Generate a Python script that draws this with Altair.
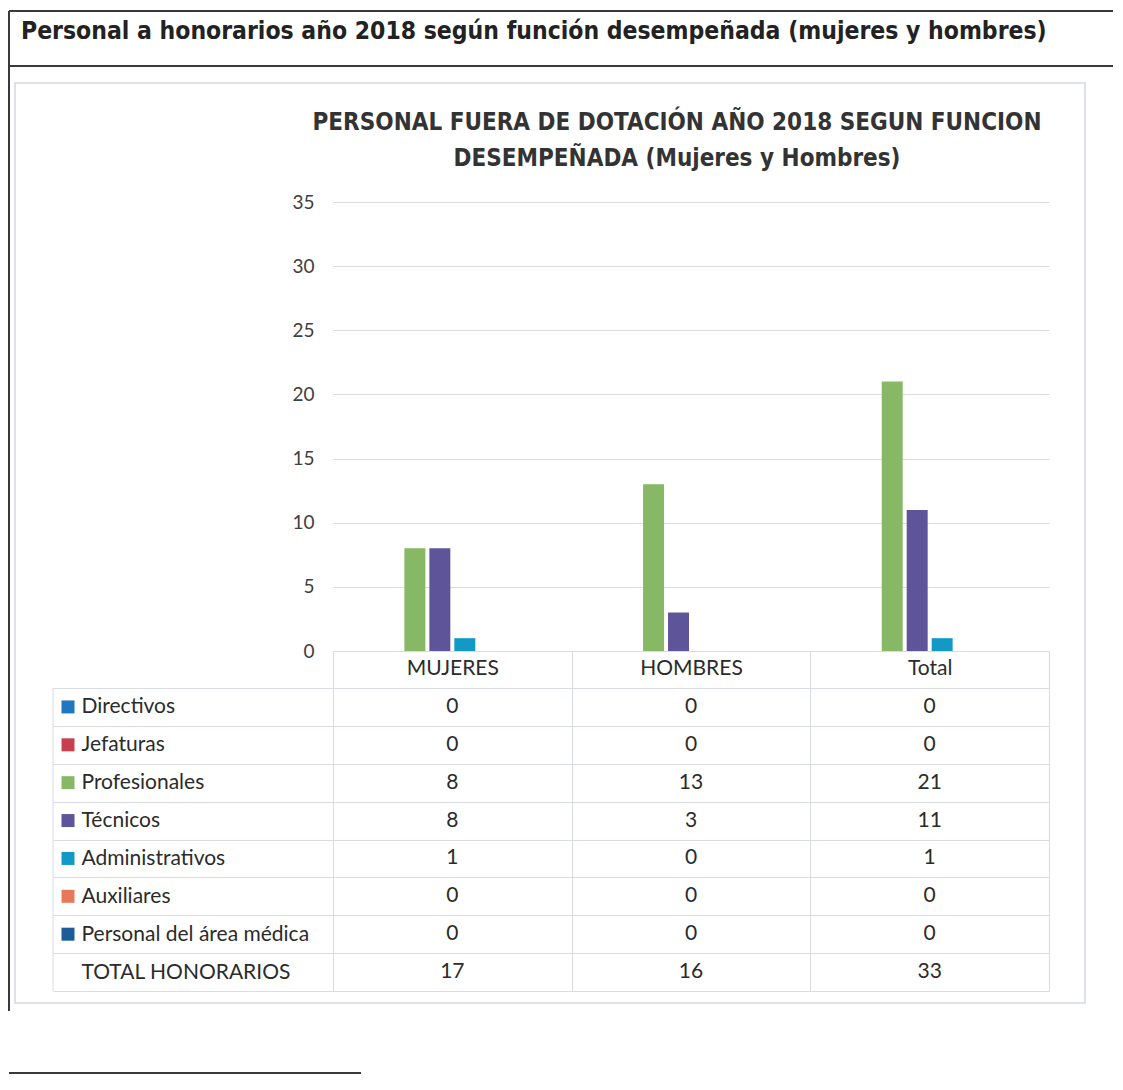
import altair as alt
import pandas as pd

# ---------------- data ----------------
categories = ["MUJERES", "HOMBRES", "Total"]
series = ["Directivos", "Jefaturas", "Profesionales", "Técnicos",
          "Administrativos", "Auxiliares", "Personal del área médica"]
mujeres = [0, 0, 8, 8, 1, 0, 0]
hombres = [0, 0, 13, 3, 0, 0, 0]
total = [0, 0, 21, 11, 1, 0, 0]
total_label = "TOTAL HONORARIOS"
totals = [17, 16, 33]
y_ticks = [0, 5, 10, 15, 20, 25, 30, 35]
colors = ["#1f78bf", "#c8404f", "#86b865", "#5d5499",
          "#1399c6", "#e8785a", "#1c5c98"]

doc_title = "Personal a honorarios año 2018 según función desempeñada (mujeres y hombres)"
chart_title = ["PERSONAL FUERA DE DOTACIÓN AÑO 2018 SEGUN FUNCION",
               "DESEMPEÑADA (Mujeres y Hombres)"]

# ---------------- styles ----------------
NARROW = "DejaVu Sans Condensed, Liberation Sans Narrow, Liberation Sans"
BODY = "Lato"
TXT = "#2b2b2b"
GRID = "#d8dbe4"
DARK = "#3a3a3a"

W, H_PLOT, H_TAB = 716, 449, 303

cols = {"MUJERES": mujeres, "HOMBRES": hombres, "Total": total}
bar_rows = []
for c in categories:
    for s, v in zip(series, cols[c]):
        bar_rows.append({"categoria": c, "serie": s, "valor": v})
bar_df = pd.DataFrame(bar_rows)

row_order = series + [total_label]
tab_rows = []
for ci, c in enumerate(categories):
    for s, v in zip(series, cols[c]):
        tab_rows.append({"fila": s, "categoria": c, "valor": v})
    tab_rows.append({"fila": total_label, "categoria": c, "valor": totals[ci]})
tab_df = pd.DataFrame(tab_rows)
sq_df = pd.DataFrame({"fila": series, "serie": series})

color_scale = alt.Scale(domain=series, range=colors)

# ---------------- bar chart ----------------
top = alt.Chart(bar_df).mark_bar().encode(
    x=alt.X("categoria:N",
            scale=alt.Scale(domain=categories, paddingInner=0, paddingOuter=0),
            axis=alt.Axis(title=None, labelFont=BODY, labelFontSize=21, labelColor=TXT,
                          labelAngle=0, labelPadding=-20, labelBaseline="middle",
                          tickBand="extent", tickSize=37, tickColor=GRID, ticks=True,
                          domainColor=GRID, grid=False)),
    xOffset=alt.XOffset("serie:N",
                        scale=alt.Scale(domain=series + [" "], paddingInner=0.16,
                                        paddingOuter=0.86)),
    y=alt.Y("valor:Q",
            scale=alt.Scale(domain=[0, 35]),
            axis=alt.Axis(title=None, values=y_ticks, grid=True, gridColor=GRID,
                          domain=False, ticks=False, labelFont=BODY, labelFontSize=19,
                          labelColor="#404040", labelPadding=19)),
    color=alt.Color("serie:N", scale=color_scale, legend=None),
).properties(
    width=W, height=H_PLOT,
    title=alt.TitleParams(text=chart_title, font=NARROW, fontSize=24, fontWeight="bold",
                          color="#333333", anchor="middle", frame="group", dx=-14,
                          offset=22, lineHeight=36),
)

# ---------------- data table ----------------
cells = alt.Chart(tab_df).mark_text(font=BODY, fontSize=21, color=TXT).encode(
    x=alt.X("categoria:N",
            scale=alt.Scale(domain=categories, paddingInner=0, paddingOuter=0),
            axis=alt.Axis(title=None, labels=False, ticks=False, domain=False, grid=True,
                          gridColor=GRID, tickBand="extent")),
    y=alt.Y("fila:N",
            scale=alt.Scale(domain=row_order, paddingInner=0, paddingOuter=0),
            axis=alt.Axis(title=None, grid=True, gridColor=GRID, tickBand="extent",
                          ticks=True, tickSize=280, tickColor=GRID, domain=False,
                          labelAlign="left", labelPadding=-28, labelBaseline="middle",
                          labelFont=BODY, labelFontSize=21, labelColor=TXT,
                          labelLimit=400, labelOverlap=False)),
    text="valor:Q",
)

squares = alt.Chart(sq_df).mark_square(size=169, opacity=1).encode(
    x=alt.value(-265),
    y=alt.Y("fila:N", scale=alt.Scale(domain=row_order, paddingInner=0, paddingOuter=0)),
    color=alt.Color("serie:N", scale=color_scale, legend=None),
)

one = alt.Data(values=[{}])
left_border = alt.Chart(one).mark_rule(color=GRID, strokeWidth=1).encode(
    x=alt.value(-280), y=alt.value(0), y2=alt.value(H_TAB))

# page decoration (document frame and chart box), relative to table origin
box = alt.Chart(one).mark_rect(fillOpacity=0, stroke="#d3d7e0", strokeWidth=1.5).encode(
    x=alt.value(-318), x2=alt.value(752), y=alt.value(-605), y2=alt.value(315))
frame_top = alt.Chart(one).mark_rule(color=DARK, strokeWidth=2).encode(
    x=alt.value(-324), x2=alt.value(780), y=alt.value(-677))
frame_mid = alt.Chart(one).mark_rule(color=DARK, strokeWidth=2).encode(
    x=alt.value(-324), x2=alt.value(780), y=alt.value(-622))
frame_left = alt.Chart(one).mark_rule(color=DARK, strokeWidth=2).encode(
    x=alt.value(-324), y=alt.value(-677), y2=alt.value(323))
frame_bottom = alt.Chart(one).mark_rule(color=DARK, strokeWidth=2).encode(
    x=alt.value(-324), x2=alt.value(28), y=alt.value(385))
doc_head = alt.Chart(one).mark_text(font=NARROW, fontSize=24.5, fontWeight="bold",
                                    color="#222222", align="left",
                                    baseline="alphabetic").encode(
    x=alt.value(-312), y=alt.value(-649), text=alt.value(doc_title))

table = alt.layer(box, frame_top, frame_mid, frame_left, frame_bottom, doc_head,
                  cells, squares, left_border).properties(width=W, height=H_TAB)

chart = alt.vconcat(top, table, spacing=37, bounds="flush").properties(
    padding={"left": 0, "top": 2, "right": 0, "bottom": 0}
).configure_view(stroke=None)

chart.save("out.html", embed_options={"renderer": "svg", "actions": False})
